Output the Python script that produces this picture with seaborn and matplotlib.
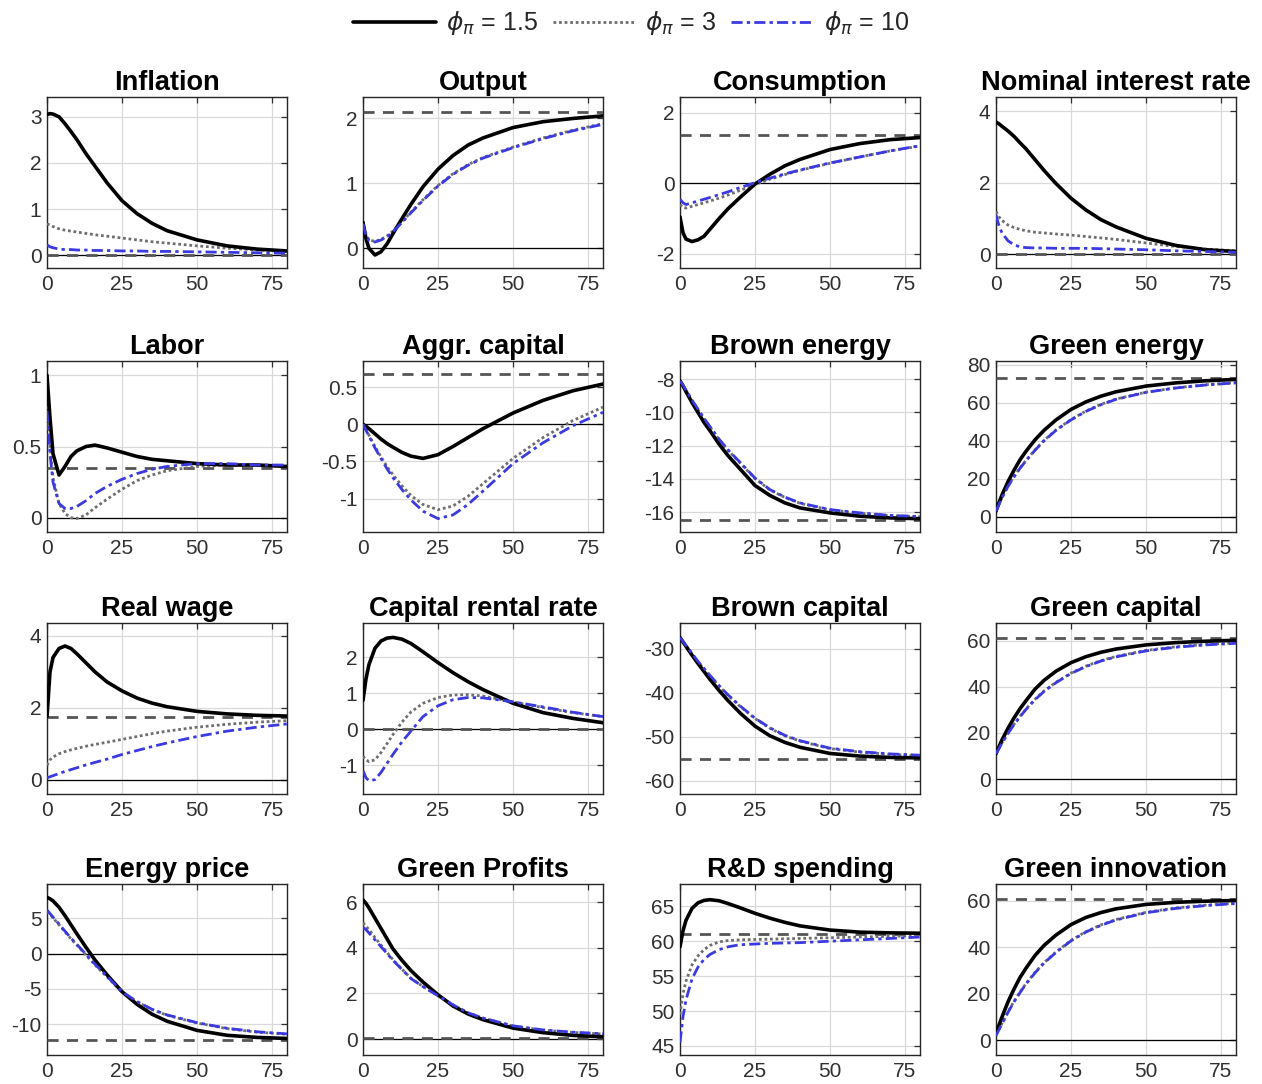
import numpy as np
import pandas as pd
import matplotlib
matplotlib.use("Agg")
import matplotlib.pyplot as plt
from matplotlib.ticker import FuncFormatter
from matplotlib.lines import Line2D
import seaborn as sns

sns.set_theme(style="white")
plt.rcParams['font.family'] = ['Liberation Sans', 'DejaVu Sans']
plt.rcParams['axes.unicode_minus'] = False
plt.rcParams['mathtext.fontset'] = 'dejavusans'

# ---------------- data ----------------
periods = [0, 1, 2, 4, 6, 8, 10, 13, 16, 20, 25, 30, 35, 40, 50, 60, 70, 80]
series_labels = [r"$\phi_\pi$ = 1.5", r"$\phi_\pi$ = 3", r"$\phi_\pi$ = 10"]
titles = ["Inflation", "Output", "Consumption", "Nominal interest rate",
          "Labor", "Aggr. capital", "Brown energy", "Green energy",
          "Real wage", "Capital rental rate", "Brown capital", "Green capital",
          "Energy price", "Green Profits", "R&D spending", "Green innovation"]

inflation_15 = [3.05, 3.07, 3.06, 3.0, 2.85, 2.68, 2.5, 2.2, 1.93, 1.57, 1.18, 0.9, 0.69, 0.53, 0.33, 0.2, 0.13, 0.09]
inflation_3 = [0.68, 0.65, 0.62, 0.57, 0.54, 0.52, 0.5, 0.47, 0.44, 0.41, 0.37, 0.33, 0.29, 0.26, 0.2, 0.15, 0.11, 0.08]
inflation_10 = [0.22, 0.18, 0.16, 0.13, 0.12, 0.12, 0.11, 0.11, 0.1, 0.1, 0.09, 0.09, 0.08, 0.08, 0.07, 0.06, 0.05, 0.04]

output_15 = [0.4, 0.15, 0.0, -0.1, -0.05, 0.07, 0.23, 0.46, 0.68, 0.95, 1.22, 1.43, 1.59, 1.7, 1.86, 1.95, 2.0, 2.04]
output_3 = [0.42, 0.22, 0.13, 0.11, 0.14, 0.19, 0.27, 0.41, 0.56, 0.75, 0.97, 1.15, 1.29, 1.4, 1.56, 1.7, 1.82, 1.92]
output_10 = [0.38, 0.2, 0.12, 0.1, 0.13, 0.18, 0.26, 0.4, 0.55, 0.74, 0.96, 1.14, 1.28, 1.39, 1.55, 1.69, 1.81, 1.91]

consumption_15 = [-0.95, -1.4, -1.58, -1.65, -1.6, -1.5, -1.3, -1.0, -0.72, -0.4, -0.02, 0.26, 0.5, 0.68, 0.96, 1.13, 1.24, 1.3]
consumption_3 = [-0.6, -0.68, -0.7, -0.65, -0.6, -0.55, -0.5, -0.42, -0.33, -0.2, -0.03, 0.12, 0.25, 0.37, 0.57, 0.75, 0.92, 1.06]
consumption_10 = [-0.45, -0.55, -0.6, -0.55, -0.5, -0.45, -0.4, -0.32, -0.24, -0.12, 0.02, 0.15, 0.27, 0.38, 0.58, 0.75, 0.92, 1.07]

nominal_15 = [3.7, 3.65, 3.58, 3.45, 3.3, 3.12, 2.95, 2.65, 2.35, 1.98, 1.57, 1.24, 0.97, 0.77, 0.45, 0.25, 0.13, 0.08]
nominal_3 = [1.2, 1.05, 0.95, 0.82, 0.75, 0.7, 0.66, 0.62, 0.6, 0.57, 0.54, 0.5, 0.46, 0.42, 0.32, 0.22, 0.15, 0.1]
nominal_10 = [1.1, 0.8, 0.6, 0.38, 0.27, 0.21, 0.19, 0.18, 0.18, 0.17, 0.17, 0.17, 0.16, 0.15, 0.13, 0.1, 0.08, 0.06]

labor_15 = [1.0, 0.7, 0.45, 0.3, 0.36, 0.43, 0.47, 0.5, 0.51, 0.49, 0.46, 0.43, 0.41, 0.4, 0.38, 0.37, 0.37, 0.36]
labor_3 = [0.9, 0.5, 0.28, 0.1, 0.03, 0.0, -0.005, 0.02, 0.07, 0.13, 0.2, 0.26, 0.3, 0.33, 0.36, 0.37, 0.37, 0.36]
labor_10 = [0.75, 0.45, 0.25, 0.1, 0.065, 0.065, 0.08, 0.12, 0.17, 0.22, 0.27, 0.31, 0.34, 0.36, 0.38, 0.38, 0.37, 0.37]

capital_15 = [0.0, -0.03, -0.06, -0.13, -0.2, -0.26, -0.31, -0.38, -0.43, -0.46, -0.41, -0.3, -0.18, -0.06, 0.15, 0.32, 0.45, 0.54]
capital_3 = [0.0, -0.08, -0.15, -0.3, -0.44, -0.57, -0.68, -0.83, -0.96, -1.08, -1.15, -1.1, -0.97, -0.8, -0.46, -0.18, 0.05, 0.23]
capital_10 = [0.0, -0.08, -0.16, -0.32, -0.46, -0.6, -0.72, -0.88, -1.02, -1.17, -1.27, -1.22, -1.08, -0.9, -0.53, -0.25, -0.02, 0.16]

brown_energy_15 = [-8.1, -8.4, -8.75, -9.4, -10.0, -10.6, -11.1, -11.9, -12.6, -13.4, -14.4, -15.0, -15.45, -15.75, -16.05, -16.25, -16.35, -16.4]
brown_energy_3 = [-8.1, -8.36, -8.67, -9.28, -9.83, -10.38, -10.88, -11.63, -12.28, -13.03, -13.98, -14.67, -15.12, -15.47, -15.87, -16.07, -16.21, -16.28]
brown_energy_10 = [-8.1, -8.35, -8.65, -9.25, -9.8, -10.35, -10.85, -11.6, -12.25, -13.0, -13.95, -14.65, -15.1, -15.45, -15.85, -16.05, -16.2, -16.27]

green_energy_15 = [3.0, 7.5, 11.5, 18.5, 24.5, 30.0, 34.5, 40.5, 45.5, 51.0, 56.5, 60.5, 63.5, 65.8, 68.8, 70.5, 71.6, 72.3]
green_energy_3 = [3.0, 6.6, 10.1, 16.2, 21.2, 25.7, 29.7, 35.2, 40.2, 45.7, 51.2, 55.7, 59.2, 62.0, 65.6, 67.9, 69.5, 70.6]
green_energy_10 = [3.0, 6.5, 10.0, 16.0, 21.0, 25.5, 29.5, 35.0, 40.0, 45.5, 51.0, 55.5, 59.0, 61.8, 65.5, 67.8, 69.4, 70.5]

real_wage_15 = [1.75, 3.0, 3.4, 3.65, 3.72, 3.65, 3.5, 3.25, 3.0, 2.72, 2.47, 2.27, 2.13, 2.03, 1.9, 1.83, 1.79, 1.77]
real_wage_3 = [0.4, 0.55, 0.63, 0.72, 0.78, 0.83, 0.87, 0.93, 0.98, 1.04, 1.12, 1.2, 1.28, 1.35, 1.46, 1.54, 1.6, 1.64]
real_wage_10 = [0.05, 0.08, 0.11, 0.17, 0.23, 0.28, 0.33, 0.41, 0.48, 0.57, 0.7, 0.81, 0.92, 1.02, 1.2, 1.35, 1.46, 1.55]

rental_15 = [0.8, 1.4, 1.8, 2.25, 2.45, 2.53, 2.55, 2.5, 2.38, 2.15, 1.85, 1.57, 1.32, 1.1, 0.72, 0.46, 0.3, 0.18]
rental_3 = [-0.75, -0.85, -0.9, -0.85, -0.65, -0.4, -0.15, 0.2, 0.48, 0.72, 0.88, 0.95, 0.96, 0.92, 0.76, 0.6, 0.46, 0.35]
rental_10 = [-1.15, -1.35, -1.43, -1.4, -1.2, -0.95, -0.7, -0.35, -0.05, 0.35, 0.65, 0.82, 0.88, 0.87, 0.76, 0.62, 0.47, 0.35]

brown_capital_15 = [-27.5, -28.5, -29.5, -31.5, -33.4, -35.2, -37.0, -39.5, -41.8, -44.6, -47.6, -49.8, -51.3, -52.4, -53.8, -54.4, -54.7, -54.8]
brown_capital_3 = [-27.5, -28.4, -29.3, -31.2, -33.0, -34.6, -36.2, -38.5, -40.6, -43.1, -45.9, -48.1, -49.8, -51.0, -52.7, -53.5, -54.0, -54.3]
brown_capital_10 = [-27.5, -28.4, -29.3, -31.1, -32.9, -34.5, -36.1, -38.4, -40.5, -43.0, -45.8, -48.0, -49.7, -50.9, -52.6, -53.4, -53.9, -54.2]

green_capital_15 = [11.0, 14.0, 17.0, 22.0, 26.5, 30.5, 34.0, 39.0, 42.8, 46.8, 50.5, 53.1, 55.0, 56.4, 58.2, 59.2, 59.8, 60.2]
green_capital_3 = [11.0, 13.4, 15.7, 20.0, 23.8, 27.2, 30.4, 34.6, 38.2, 42.0, 46.0, 49.0, 51.4, 53.2, 55.8, 57.4, 58.4, 59.1]
green_capital_10 = [11.0, 13.3, 15.6, 19.8, 23.6, 27.0, 30.2, 34.4, 38.0, 41.8, 45.8, 48.8, 51.2, 53.0, 55.6, 57.2, 58.2, 58.9]

energy_price_15 = [8.0, 7.8, 7.5, 6.6, 5.4, 4.1, 2.8, 0.9, -0.9, -3.0, -5.4, -7.2, -8.6, -9.6, -10.9, -11.6, -11.9, -12.05]
energy_price_3 = [6.0, 5.6, 5.1, 4.1, 3.1, 2.1, 1.2, -0.2, -1.6, -3.3, -5.45, -6.85, -7.95, -8.75, -9.85, -10.65, -11.15, -11.45]
energy_price_10 = [6.2, 5.7, 5.2, 4.2, 3.2, 2.2, 1.3, -0.1, -1.5, -3.2, -5.4, -6.8, -7.9, -8.7, -9.8, -10.6, -11.1, -11.4]

green_profits_15 = [6.1, 5.95, 5.75, 5.3, 4.85, 4.4, 3.95, 3.45, 3.0, 2.5, 1.94, 1.45, 1.1, 0.85, 0.48, 0.28, 0.16, 0.1]
green_profits_3 = [5.1, 4.95, 4.8, 4.45, 4.12, 3.8, 3.48, 3.06, 2.66, 2.3, 1.9, 1.5, 1.15, 0.92, 0.57, 0.39, 0.29, 0.22]
green_profits_10 = [4.9, 4.8, 4.65, 4.35, 4.05, 3.75, 3.45, 3.05, 2.65, 2.3, 1.9, 1.5, 1.15, 0.92, 0.58, 0.4, 0.3, 0.23]

rd_15 = [59.2, 61.5, 63.0, 64.7, 65.5, 65.85, 65.95, 65.8, 65.4, 64.8, 64.0, 63.3, 62.7, 62.2, 61.6, 61.3, 61.2, 61.15]
rd_3 = [49.5, 52.5, 54.3, 56.6, 57.9, 58.8, 59.4, 59.9, 60.1, 60.2, 60.25, 60.3, 60.35, 60.4, 60.5, 60.6, 60.7, 60.8]
rd_10 = [45.5, 49.2, 51.6, 54.6, 56.3, 57.4, 58.1, 58.8, 59.2, 59.5, 59.6, 59.7, 59.75, 59.8, 60.0, 60.2, 60.4, 60.6]

green_innov_15 = [3.0, 6.5, 10.0, 16.5, 22.0, 27.0, 31.0, 36.5, 40.8, 45.3, 49.8, 52.9, 55.0, 56.6, 58.5, 59.4, 59.9, 60.2]
green_innov_3 = [2.2, 4.7, 7.2, 12.2, 16.7, 20.7, 24.4, 29.2, 33.4, 38.0, 43.0, 46.8, 49.7, 52.0, 55.1, 57.0, 58.2, 59.0]
green_innov_10 = [2.0, 4.5, 7.0, 12.0, 16.5, 20.5, 24.2, 29.0, 33.2, 37.8, 42.8, 46.6, 49.5, 51.8, 54.9, 56.8, 58.0, 58.9]

steady_states = [0.0, 2.1, 1.38, 0.0, 0.35, 0.68, -16.45, 73.0,
                 1.75, 0.0, -55.0, 61.3, -12.3, 0.05, 61.1, 61.0]

ylims = [(-0.28, 3.43), (-0.3, 2.33), (-2.4, 2.45), (-0.38, 4.4),
         (-0.1, 1.1), (-1.45, 0.85), (-17.2, -6.9), (-8, 82),
         (-0.4, 4.36), (-1.8, 2.95), (-63, -24.2), (-6.5, 67.7),
         (-14.4, 9.9), (-0.7, 6.8), (43.7, 68.2), (-6.4, 67.3)]
yticks = [[0, 1, 2, 3], [0, 1, 2], [-2, 0, 2], [0, 2, 4],
          [0, 0.5, 1], [-1, -0.5, 0, 0.5], [-16, -14, -12, -10, -8], [0, 20, 40, 60, 80],
          [0, 2, 4], [-1, 0, 1, 2], [-60, -50, -40, -30], [0, 20, 40, 60],
          [-10, -5, 0, 5], [0, 2, 4, 6], [45, 50, 55, 60, 65], [0, 20, 40, 60]]
xticks = [0, 25, 50, 75]

panels = [
    (inflation_15, inflation_3, inflation_10),
    (output_15, output_3, output_10),
    (consumption_15, consumption_3, consumption_10),
    (nominal_15, nominal_3, nominal_10),
    (labor_15, labor_3, labor_10),
    (capital_15, capital_3, capital_10),
    (brown_energy_15, brown_energy_3, brown_energy_10),
    (green_energy_15, green_energy_3, green_energy_10),
    (real_wage_15, real_wage_3, real_wage_10),
    (rental_15, rental_3, rental_10),
    (brown_capital_15, brown_capital_3, brown_capital_10),
    (green_capital_15, green_capital_3, green_capital_10),
    (energy_price_15, energy_price_3, energy_price_10),
    (green_profits_15, green_profits_3, green_profits_10),
    (rd_15, rd_3, rd_10),
    (green_innov_15, green_innov_3, green_innov_10),
]

# ---------------- styling ----------------
W, H = 1262, 1084
fig = plt.figure(figsize=(W / 100, H / 100), dpi=100)
fig.patch.set_facecolor("white")

col_left = [47, 363, 680, 996]
row_top = [97, 361, 623, 884]
ax_w, ax_h = 240, 171

styles = [
    dict(color="black", linestyle="-", linewidth=2.6, zorder=5),
    dict(color="#6e6e6e", linestyle=(0, (1, 1)), linewidth=2.0, zorder=4),
    dict(color="#3a3ae0", linestyle=(0, (4, 1.5, 1.2, 1.5)), linewidth=2.0, zorder=6),
]
fmt = FuncFormatter(lambda v, p: f"{v:g}")

for i, (title, data) in enumerate(zip(titles, panels)):
    r, c = divmod(i, 4)
    ax = fig.add_axes([col_left[c] / W, 1 - (row_top[r] + ax_h) / H, ax_w / W, ax_h / H])
    ax.set_facecolor("white")
    lo, hi = ylims[i]
    if lo < 0 < hi:
        ax.axhline(0, color="black", linewidth=0.9, zorder=2)
    ax.axhline(steady_states[i], color="#555555", linestyle=(0, (4, 3)), linewidth=2.0, zorder=3)
    df = pd.DataFrame({"period": periods, "s15": data[0], "s3": data[1], "s10": data[2]})
    for col, st in zip(["s15", "s3", "s10"], styles):
        sns.lineplot(data=df, x="period", y=col, ax=ax, **st)
    ax.set_xlim(0, 80)
    ax.set_ylim(lo, hi)
    ax.set_xticks(xticks)
    ax.set_yticks(yticks[i])
    ax.yaxis.set_major_formatter(fmt)
    ax.set_xlabel("")
    ax.set_ylabel("")
    ax.grid(True, color="#d9d9d9", linewidth=0.9, zorder=0)
    ax.set_axisbelow(True)
    ax.tick_params(direction="in", length=4, width=0.9, labelsize=15,
                   colors="#303030", top=True, right=True)
    ax.tick_params(axis="x", pad=5)
    ax.tick_params(axis="y", pad=4)
    for s in ax.spines.values():
        s.set_color("#262626")
        s.set_linewidth(1.0)
        s.set_visible(True)
    ax.set_title(title, fontsize=19.5, fontweight="bold", pad=5, color="black")

handles = [Line2D([0], [0], **{k: v for k, v in st.items() if k != "zorder"}) for st in styles]
fig.legend(handles, series_labels, loc="upper center", bbox_to_anchor=(0.5, 1.012), ncol=3,
           frameon=False, fontsize=18, handlelength=3.3, columnspacing=0.6, handletextpad=0.4)

fig.savefig("out.png", dpi=100, facecolor="white")
